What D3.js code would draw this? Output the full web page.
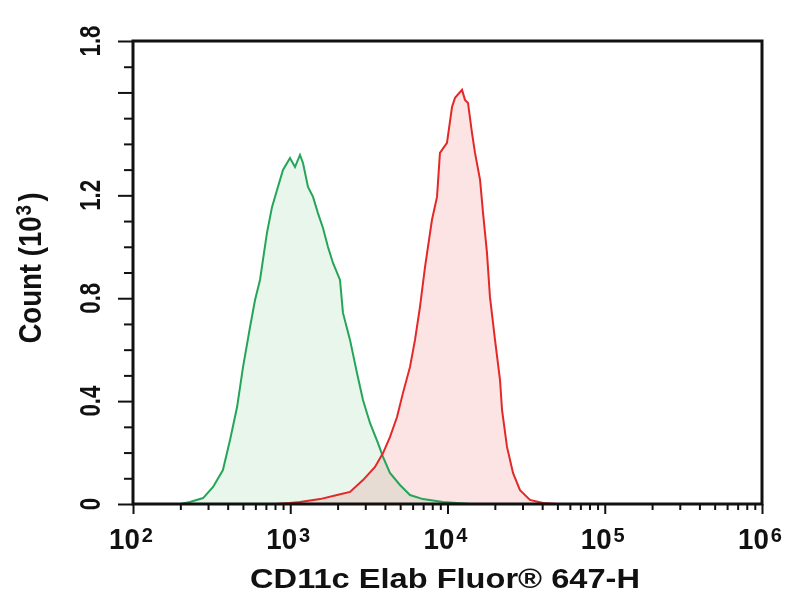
<!DOCTYPE html>
<html><head><meta charset="utf-8">
<script src="https://cdn.jsdelivr.net/npm/d3@7"></script>
<style>
html,body{margin:0;padding:0;background:#fff;}
svg text{font-family:"Liberation Sans",Arial,sans-serif;font-weight:bold;fill:#111;}
</style></head>
<body>
<svg id="chart" width="804" height="600"></svg>
<script>
// ---- data ----
const greenX = [200,230,279,323,373,414,459,501,555,597,642,711,766,824,899,996,1072,1153,1205,1297,1396,1500,1615,1738,1870,2072,2164,2399,2657,2901,3214,3614,3890,4305,4988,5775,6982,9354,11480,14000];
const greenY = [0,0.008,0.023,0.066,0.132,0.249,0.377,0.533,0.688,0.793,0.871,1.054,1.155,1.221,1.299,1.345,1.310,1.357,1.326,1.233,1.194,1.131,1.073,0.999,0.937,0.871,0.743,0.638,0.509,0.404,0.315,0.237,0.183,0.121,0.074,0.035,0.019,0.008,0.004,0];
const redX = [800,996,1153,1546,1983,2399,2901,3459,3890,4305,4775,5212,5775,6214,6683,7194,7962,8576,8954,9923,10690,11165,12370,12920,13500,14320,14960,16110,16830,17830,18620,20050,21580,22230,23900,26100,28910,33470,40460,50000];
const redY = [0,0.004,0.008,0.019,0.035,0.047,0.093,0.144,0.198,0.260,0.338,0.432,0.533,0.638,0.766,0.921,1.104,1.194,1.365,1.404,1.544,1.579,1.610,1.571,1.559,1.442,1.365,1.260,1.131,0.976,0.805,0.638,0.482,0.365,0.222,0.121,0.054,0.016,0.004,0];
const xMajorExp = [2,3,4,5,6];
const yTickLabels = ["0","0.4","0.8","1.2","1.8"];
const yTickLabelValues = [0,0.4,0.8,1.2,1.8];
const xTitle = "CD11c Elab Fluor\u00AE 647-H";
const yTitle = "Count (10";

// ---- layout ----
const svg = d3.select("#chart");
const L = 133, R = 762, T = 41, B = 504;
const x = d3.scaleLog().domain([1e2, 1e6]).range([L, R]);
const y = d3.scaleLinear().domain([0, 1.8]).range([B, T]);

function series(xs, ys){ return xs.map((v,i)=>({x:v,y:ys[i]})); }
const green = series(greenX, greenY);
const red = series(redX, redY);

const area = d3.area().x(d=>x(d.x)).y0(y(0)).y1(d=>y(d.y));
const line = d3.line().x(d=>x(d.x)).y(d=>y(d.y));

const fills = svg.append("g");
fills.append("path").datum(green).attr("d", area)
  .attr("fill", "rgb(232,246,236)").style("mix-blend-mode","multiply");
fills.append("path").datum(red).attr("d", area)
  .attr("fill", "rgb(253,228,228)").style("mix-blend-mode","multiply");

svg.append("path").datum(green).attr("d", line)
  .attr("fill","none").attr("stroke","rgb(36,165,88)").attr("stroke-width",2);
svg.append("path").datum(red).attr("d", line)
  .attr("fill","none").attr("stroke","rgb(228,40,40)").attr("stroke-width",2);

// ---- axes ----
// x minor + major ticks
const xMinor = [];
for (let e=2;e<6;e++) for (let k=2;k<=9;k++) xMinor.push(k*Math.pow(10,e));
const xMajor = xMajorExp.map(e=>Math.pow(10,e));
const xAxisMinor = d3.axisBottom(x).tickValues(xMinor).tickSize(6).tickFormat("");
const xAxisMajor = d3.axisBottom(x).tickValues(xMajor).tickSize(10).tickFormat("");
[xAxisMinor, xAxisMajor].forEach(ax=>{
  const g = svg.append("g").attr("transform",`translate(0,${B})`).call(ax);
  g.select(".domain").remove();
  g.selectAll(".tick line").attr("stroke","#111").attr("stroke-width",2);
});

// y ticks
const yAll = d3.range(0, 19).map(i=>+(i*0.1).toFixed(1));
const isMajor = v => [0,0.4,0.8,1.2,1.6,1.8].some(m=>Math.abs(m-v)<1e-6);
const yAxisMinor = d3.axisLeft(y).tickValues(yAll.filter(v=>!isMajor(v))).tickSize(9).tickFormat("");
const yAxisMajor = d3.axisLeft(y).tickValues(yAll.filter(isMajor)).tickSize(15).tickFormat("");
[yAxisMinor, yAxisMajor].forEach(ax=>{
  const g = svg.append("g").attr("transform",`translate(${L},0)`).call(ax);
  g.select(".domain").remove();
  g.selectAll(".tick line").attr("stroke","#111").attr("stroke-width",2);
});

// frame
svg.append("rect").attr("x",L).attr("y",T).attr("width",R-L).attr("height",B-T)
  .attr("fill","none").attr("stroke","#111").attr("stroke-width",3);

// helper: compress text horizontally (along its direction)
function squeeze(textSel, factor){
  textSel.attr("transform", `scale(${factor},1)`);
}
function fitTo(textSel, target){
  const w = textSel.node().getComputedTextLength();
  textSel.attr("transform", `scale(${target/w},1)`);
}

// x tick labels
xMajorExp.forEach(e=>{
  const g = svg.append("g").attr("transform",`translate(${x(Math.pow(10,e))-2},549)`);
  const t = g.append("text").attr("text-anchor","middle").style("font-size","29px");
  t.append("tspan").text("10");
  t.append("tspan").text(String(e)).style("font-size","21px").attr("dy",-7).attr("dx",2);
  fitTo(t, 42);
});

// y tick labels (rotated)
yTickLabels.forEach((lab,i)=>{
  const g = svg.append("g").attr("transform",`translate(100,${y(yTickLabelValues[i])}) rotate(-90)`);
  const t = g.append("text").attr("text-anchor","middle").style("font-size","30px").text(lab);
  squeeze(t, 0.74);
});

// x title
{
  const g = svg.append("g").attr("transform",`translate(445,588)`);
  const t = g.append("text").attr("text-anchor","middle").style("font-size","27px").text(xTitle);
  fitTo(t, 390);
}
// y title
{
  const g = svg.append("g").attr("transform",`translate(41,268) rotate(-90)`);
  const t = g.append("text").attr("text-anchor","middle").style("font-size","32px");
  t.append("tspan").text(yTitle);
  t.append("tspan").text("3").style("font-size","22px").attr("dy",-10).attr("dx",1);
  t.append("tspan").text(")").attr("dy",10).attr("dx",4);
  fitTo(t, 147);
}
</script>
</body></html>
